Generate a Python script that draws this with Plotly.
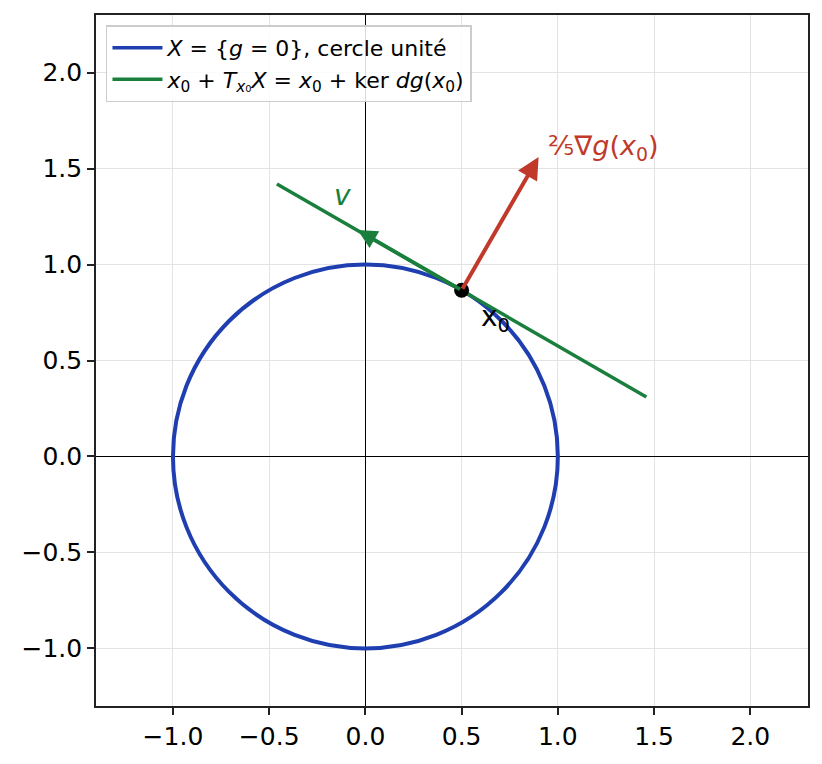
import plotly.graph_objects as go

# cercle unité X = {g = 0}
circle_center = [0.0, 0.0]
circle_radius = 1.0

# point x0 sur le cercle
x0_x = [0.5]
x0_y = [0.866]

# droite tangente x0 + ker dg(x0)
tangent_x = [-0.46, 1.46]
tangent_y = [1.42, 0.31]

# vecteur tangent v et gradient (2/5)∇g(x0)
v_tip = [-0.04, 1.18]
grad_tip = [0.9, 1.56]

tick_vals = [-1.0, -0.5, 0.0, 0.5, 1.0, 1.5, 2.0]

blue = "#1f3fb0"
green = "#1a7f3c"
red = "#c0392b"

fig = go.Figure()

# legend entry for the circle (drawn as a shape below)
fig.add_trace(go.Scatter(x=[None], y=[None], mode="lines", line=dict(color=blue, width=3.5),
                         name="<i>X</i> = {<i>g</i> = 0}, cercle unité"))
fig.add_trace(go.Scatter(x=tangent_x, y=tangent_y, mode="lines", line=dict(color=green, width=3.5),
                         name="<i>x</i><sub>0</sub> + <i>T</i><sub><i>x</i>₀</sub><i>X</i> = <i>x</i><sub>0</sub> + ker <i>dg</i>(<i>x</i><sub>0</sub>)"))

fig.add_shape(type="circle", xref="x", yref="y",
              x0=circle_center[0] - circle_radius, y0=circle_center[1] - circle_radius,
              x1=circle_center[0] + circle_radius, y1=circle_center[1] + circle_radius,
              line=dict(color=blue, width=4), layer="between")

fig.add_trace(go.Scatter(x=x0_x, y=x0_y, mode="markers", marker=dict(color="black", size=15),
                         showlegend=False))

# arrows
fig.add_annotation(x=grad_tip[0], y=grad_tip[1], ax=x0_x[0], ay=x0_y[0], xref="x", yref="y",
                   axref="x", ayref="y", text="", showarrow=True, arrowhead=2, arrowsize=1.1,
                   arrowwidth=4, arrowcolor=red, standoff=0)
fig.add_annotation(x=v_tip[0], y=v_tip[1], ax=x0_x[0], ay=x0_y[0], xref="x", yref="y",
                   axref="x", ayref="y", text="", showarrow=True, arrowhead=2, arrowsize=1.1,
                   arrowwidth=3.5, arrowcolor=green, standoff=0)

# labels
fig.add_annotation(x=0.94, y=1.61, xref="x", yref="y", text="⅖∇<i>g</i>(<i>x</i><sub>0</sub>)",
                   showarrow=False, xanchor="left", yanchor="middle", font=dict(size=27, color=red))
fig.add_annotation(x=-0.12, y=1.36, xref="x", yref="y", text="<i>v</i>",
                   showarrow=False, font=dict(size=28, color=green))
fig.add_annotation(x=0.59, y=0.72, xref="x", yref="y", text="x<sub>0</sub>",
                   showarrow=False, xanchor="left", font=dict(size=28, color="black"))

axis_common = dict(showgrid=True, gridcolor="#e3e3e3", gridwidth=1.2,
                   zeroline=True, zerolinecolor="black", zerolinewidth=1.4,
                   showline=True, linecolor="#222222", linewidth=1.6, mirror=True,
                   ticks="outside", ticklen=7, tickwidth=1.5, tickcolor="#222222",
                   tickvals=tick_vals, tickformat=".1f", automargin=False,
                   tickfont=dict(size=25, color="black"))

fig.update_xaxes(range=[-1.4, 2.3], **axis_common)
fig.update_yaxes(range=[-1.3, 2.3], **axis_common)

# page body has an 8px margin, so margins are shifted to land where the reference is
fig.update_layout(
    width=822, height=764,
    margin=dict(l=88, r=22, t=7, b=66),
    plot_bgcolor="white", paper_bgcolor="white",
    font=dict(family="DejaVu Sans", color="black"),
    legend=dict(x=0.014, y=0.985, xanchor="left", yanchor="top",
                bgcolor="rgba(255,255,255,0.85)", bordercolor="#cccccc", borderwidth=1.5,
                font=dict(size=22), itemwidth=50),
)

fig.write_html("out.html")
